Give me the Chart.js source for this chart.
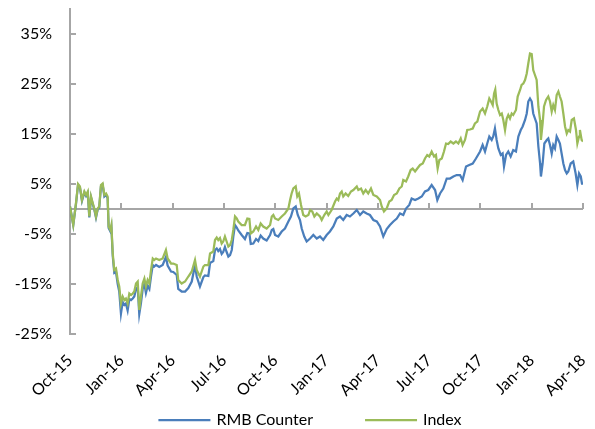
<!DOCTYPE html>
<html><head><meta charset="utf-8">
<script src="https://cdn.jsdelivr.net/npm/chart.js@4.4.1/dist/chart.umd.min.js"></script>
<style>html,body{margin:0;padding:0;background:#fff}#wrap{width:595px;height:429px}</style>
</head><body><div id="wrap"><canvas id="c" width="595" height="429"></canvas></div>
<script>
// Month offsets from Oct-2015 for tick positions
const xTickMonths = [0, 3, 6, 9, 12, 15, 18, 21, 24, 27, 30];
const xTickLabels = ['Oct-15', 'Jan-16', 'Apr-16', 'Jul-16', 'Oct-16', 'Jan-17', 'Apr-17', 'Jul-17', 'Oct-17', 'Jan-18', 'Apr-18'];
const yTickValues = [-25, -15, -5, 5, 15, 25, 35];
const seriesNames = ['RMB Counter', 'Index'];

const indexMonths = [0,0.19,0.35,0.47,0.58,0.70,0.84,0.94,1.04,1.13,1.23,1.33,1.42,1.52,1.62,1.71,1.81,1.91,2.01,2.11,2.20,2.26,2.36,2.42,2.50,2.59,2.69,2.79,2.88,2.98,3.08,3.18,3.27,3.37,3.47,3.57,3.67,3.76,3.86,3.96,4.05,4.15,4.25,4.35,4.44,4.54,4.64,4.74,4.84,4.93,5.03,5.22,5.42,5.61,5.71,5.91,6.04,6.24,6.33,6.53,6.73,6.92,7.12,7.31,7.41,7.60,7.80,7.89,8.09,8.19,8.38,8.48,8.58,8.67,8.77,8.87,8.96,9.06,9.16,9.26,9.36,9.46,9.55,9.65,9.75,9.84,10.04,10.23,10.37,10.49,10.57,10.72,10.88,11.01,11.15,11.30,11.50,11.70,11.80,11.89,
11.99,12.18,12.38,12.57,12.77,12.87,12.96,13.06,13.20,13.29,13.39,13.51,13.64,13.78,13.94,14.04,14.17,14.29,14.43,14.62,14.72,14.87,15.01,15.11,15.30,15.50,15.60,15.69,15.79,15.89,15.98,16.12,16.27,16.43,16.57,16.77,16.86,17.02,17.15,17.29,17.44,17.60,17.74,17.94,18.13,18.23,18.36,18.52,18.67,18.81,18.95,19.11,19.26,19.40,19.49,19.65,19.78,19.92,20.04,20.18,20.31,20.47,20.63,20.76,20.89,21.01,21.15,21.29,21.40,21.50,21.60,21.74,21.87,21.99,22.12,22.26,22.42,22.57,22.71,22.85,22.96,23.10,23.23,23.39,23.55,23.68,23.82,23.98,24.13,24.27,24.40,24.52,24.62,24.72,24.80,24.87,24.95,25.05,25.15,25.25,25.34,25.44,25.54,25.63,25.73,25.83,25.92,26.08,26.18,26.32,26.41,26.51,26.61,26.71,26.80,26.90,27.00,27.09,27.19,27.29,27.39,27.49,27.54,27.64,27.72,27.84,27.97,28.07,28.17,28.26,28.36,28.46,28.56,28.65,28.75,28.85,28.95,29.05,29.14,29.24,29.34,29.47,29.59,29.67,29.77,29.82,29.92,30.00];
const indexValues = [0.5,-3.2,1.2,5.0,4.5,1.8,3.5,2.8,3.5,-1.5,2.5,1.2,0.1,-1.5,0.1,0.5,4.8,5.1,2.8,3.1,2.5,-3.5,-4.2,-3.2,-8.9,-12.2,-11.9,-14.2,-15.5,-18.9,-17.5,-18.2,-17.9,-18.9,-16.9,-17.2,-16.9,-16.5,-14.9,-14.5,-20.2,-17.5,-14.9,-13.9,-15.5,-14.2,-14.9,-12.2,-9.9,-10.2,-9.9,-10.2,-9.9,-8.2,-9.9,-10.9,-10.9,-11.2,-14.2,-14.9,-14.5,-13.5,-12.5,-10.2,-12.2,-13.5,-11.5,-11.2,-11.2,-8.9,-8.5,-6.2,-5.7,-6.2,-5.8,-6.9,-6.5,-5.5,-6.5,-7.5,-7.2,-6.2,-4.2,-1.5,-1.9,-2.5,-3.2,-3.2,-1.9,-2.0,-4.9,-4.5,-3.5,-4.2,-2.9,-3.5,-3.9,-3.2,-1.5,-1.2,
-1.9,-2.2,-1.5,-0.9,0.1,1.8,3.1,4.1,4.5,2.5,3.1,0.8,-1.2,-1.5,-1.2,-0.2,-0.5,-1.5,-0.9,-1.5,-2.2,-1.2,-0.5,-1.2,-0.2,1.5,2.1,1.8,3.1,3.5,2.5,3.1,2.6,3.5,3.8,4.5,3.8,4.1,3.1,3.8,3.1,4.1,2.8,2.5,1.8,0.5,-0.5,0.1,1.5,1.8,2.8,3.1,4.1,4.5,5.8,5.5,6.5,7.8,8.1,7.5,8.1,8.8,9.1,10.1,10.8,10.5,11.5,10.5,10.8,8.1,9.8,10.1,11.5,13.1,13.0,13.5,13.1,13.5,13.1,14.1,12.8,13.8,15.8,15.9,16.1,17.1,17.5,19.5,20.1,19.1,20.5,22.1,21.5,20.8,23.1,23.9,21.1,19.8,18.8,19.1,17.8,15.8,18.1,18.8,18.1,19.1,18.8,19.8,22.5,23.8,24.8,25.1,25.8,27.1,29.1,31.1,31.0,27.8,26.8,25.8,20.5,17.8,13.8,17.1,20.5,21.8,22.5,21.5,19.5,20.8,19.8,22.8,23.5,22.5,21.5,19.1,16.5,15.1,15.8,15.5,17.8,18.1,15.8,13.1,14.5,15.8,13.8,13.5];

const rmbMonths = [0,0.19,0.35,0.47,0.58,0.70,0.84,0.94,1.04,1.13,1.23,1.33,1.42,1.52,1.62,1.71,1.81,1.91,2.01,2.11,2.20,2.26,2.36,2.42,2.50,2.59,2.69,2.79,2.88,2.98,3.08,3.18,3.27,3.37,3.47,3.57,3.67,3.76,3.86,3.96,4.05,4.15,4.25,4.35,4.44,4.54,4.64,4.74,4.84,4.93,5.03,5.22,5.42,5.61,5.71,5.91,6.04,6.24,6.33,6.53,6.73,6.92,7.12,7.31,7.41,7.60,7.80,7.89,8.09,8.19,8.38,8.48,8.58,8.67,8.77,8.87,8.96,9.06,9.16,9.26,9.36,9.46,9.55,9.65,9.75,9.84,10.04,10.23,10.37,10.49,10.57,10.72,10.88,11.01,11.15,11.30,11.50,11.70,11.80,11.89,
11.99,12.18,12.38,12.57,12.77,12.92,13.06,13.20,13.32,13.45,13.55,13.70,13.84,14.04,14.23,14.43,14.62,14.81,15.01,15.20,15.40,15.60,15.79,15.98,16.18,16.37,16.57,16.77,16.96,17.15,17.35,17.54,17.74,17.94,18.13,18.32,18.52,18.71,18.91,19.11,19.30,19.49,19.65,19.84,19.98,20.18,20.37,20.57,20.76,20.95,21.15,21.35,21.48,21.64,21.83,22.03,22.22,22.42,22.61,22.81,22.96,23.16,23.35,23.55,23.74,23.98,24.13,24.27,24.40,24.52,24.66,24.75,24.85,24.95,25.05,25.19,25.30,25.38,25.50,25.63,25.77,25.92,26.08,26.22,26.36,26.47,26.61,26.71,26.80,26.90,27.00,27.09,27.19,27.29,27.39,27.49,27.54,27.64,27.74,27.88,27.97,28.07,28.17,28.26,28.36,28.46,28.56,28.65,28.75,28.85,28.95,29.05,29.14,29.28,29.43,29.57,29.67,29.77,29.87,29.94,30.00];
const rmbValues = [0.5,-3.2,1.0,4.8,4.3,1.6,3.3,2.6,3.2,-1.7,2.3,1.0,-0.1,-1.7,-0.1,0.3,4.5,4.8,2.5,2.8,2.2,-3.8,-4.5,-3.6,-9.4,-12.8,-12.6,-15.0,-16.5,-20.9,-18.6,-19.2,-18.9,-20.3,-18.0,-18.2,-17.9,-17.5,-16.0,-15.6,-21.0,-18.8,-16.0,-15.0,-16.8,-15.4,-16.0,-13.4,-11.2,-11.5,-11.2,-11.6,-11.2,-9.6,-11.3,-12.5,-12.6,-13.2,-16.0,-16.5,-16.5,-15.8,-14.5,-11.2,-13.5,-15.5,-13.6,-13.3,-13.4,-10.8,-10.4,-8.2,-7.9,-8.4,-8.0,-9.0,-8.6,-7.6,-8.6,-9.5,-9.2,-8.2,-5.5,-3.2,-3.7,-4.3,-5.2,-6.0,-4.8,-4.9,-7.0,-6.9,-6.0,-6.4,-5.3,-5.9,-6.3,-5.2,-4.2,-4.0,
-5.2,-5.5,-4.5,-3.9,-2.5,-1.5,0.1,0.5,-1.2,-2.2,-3.9,-5.5,-6.5,-5.9,-5.2,-5.9,-5.5,-6.2,-5.2,-4.5,-3.5,-1.9,-1.5,-2.2,-1.2,-1.5,-0.9,-0.2,-1.2,-0.5,-0.9,-1.2,-2.2,-2.5,-3.5,-5.5,-4.0,-3.2,-2.5,-1.9,-0.9,-1.2,0.1,0.8,2.1,1.8,2.1,2.5,3.5,3.8,4.8,3.8,1.8,3.1,4.1,6.1,6.1,6.5,6.8,6.8,5.8,8.5,8.8,9.1,10.1,11.5,12.8,11.5,13.1,14.5,13.8,14.5,16.1,13.8,12.1,10.8,11.1,8.5,10.8,11.5,10.5,11.8,11.5,14.5,15.8,16.5,17.8,19.1,21.5,22.1,21.5,19.1,18.1,17.1,12.5,9.1,6.5,9.1,13.1,13.8,14.1,12.8,11.1,12.8,12.1,14.5,13.8,13.1,11.1,9.1,7.8,7.1,7.5,9.1,9.5,7.1,4.8,7.1,6.5,5.1,5.1];

const FONT = "Lato, 'Open Sans', sans-serif";
const AXIS_GRAY = '#A6A6A6';
const BLUE = '#4A7EBB';
const GREEN = '#9BBB59';

const toPoints = (xs, ys) => xs.map((m, i) => ({x: m, y: ys[i]}));

const axisPlugin = {
  id: 'excelAxes',
  beforeDatasetsDraw(chart) {
    const {ctx, chartArea, scales: {x, y}} = chart;
    const y0 = Math.round(y.getPixelForValue(0));
    ctx.save();
    ctx.strokeStyle = AXIS_GRAY;
    ctx.lineWidth = 2;
    ctx.beginPath();
    ctx.moveTo(chartArea.left, y0);
    ctx.lineTo(chartArea.right, y0);
    xTickMonths.forEach(m => {
      const px = Math.round(x.getPixelForValue(m));
      ctx.moveTo(px, y0);
      ctx.lineTo(px, y0 - 6);
    });
    yTickValues.forEach(v => {
      const py = Math.round(y.getPixelForValue(v));
      ctx.moveTo(chartArea.left, py);
      ctx.lineTo(chartArea.left + 6, py);
    });
    ctx.stroke();
    ctx.restore();
  }
};

// Bottom legend in the spreadsheet style: long line sample, wide gap between entries
const legendPlugin = {
  id: 'bottomLegend',
  afterDraw(chart) {
    const ctx = chart.ctx;
    const lineLen = 52, textGap = 6, itemGap = 52, centerX = 310, cy = 420;
    ctx.save();
    ctx.font = '16px ' + FONT;
    ctx.textBaseline = 'middle';
    ctx.textAlign = 'left';
    const items = chart.data.datasets.map(ds => ({label: ds.label, color: ds.borderColor, lw: ds.borderWidth, w: ctx.measureText(ds.label).width}));
    const total = items.reduce((s, it) => s + lineLen + textGap + it.w, 0) + itemGap * (items.length - 1);
    let x = centerX - total / 2;
    items.forEach(it => {
      ctx.strokeStyle = it.color;
      ctx.lineWidth = it.lw;
      ctx.beginPath();
      ctx.moveTo(x, cy);
      ctx.lineTo(x + lineLen, cy);
      ctx.stroke();
      ctx.fillStyle = '#000';
      ctx.fillText(it.label, x + lineLen + textGap, cy);
      x += lineLen + textGap + it.w + itemGap;
    });
    ctx.restore();
  }
};

new Chart(document.getElementById('c'), {
  type: 'line',
  data: {
    datasets: [
      {label: seriesNames[0], data: toPoints(rmbMonths, rmbValues), borderColor: BLUE, backgroundColor: BLUE, borderWidth: 2.25, pointRadius: 0, tension: 0, fill: false, order: 1},
      {label: seriesNames[1], data: toPoints(indexMonths, indexValues), borderColor: GREEN, backgroundColor: GREEN, borderWidth: 2.25, pointRadius: 0, tension: 0, fill: false, order: 0}
    ]
  },
  options: {
    responsive: false,
    animation: false,
    devicePixelRatio: 1,
    layout: {padding: {left: 0, right: 12, top: 9, bottom: 29}},
    plugins: {
      legend: {display: false},
      tooltip: {enabled: false}
    },
    scales: {
      x: {
        type: 'linear',
        min: 0,
        max: 30,
        afterBuildTicks: s => { s.ticks = xTickMonths.map(v => ({value: v})); },
        afterFit: s => { s.height = 66; s.paddingLeft = 0; s.paddingRight = 0; },
        grid: {display: false, drawTicks: false},
        border: {display: false},
        ticks: {
          autoSkip: false, maxRotation: 45, minRotation: 45, padding: 17,
          color: '#000', font: {family: FONT, size: 16},
          callback: (v, i) => xTickLabels[i]
        }
      },
      y: {
        min: -25,
        max: 40,
        afterBuildTicks: s => { s.ticks = yTickValues.map(v => ({value: v})); },
        afterFit: s => { s.width = 70; s.paddingTop = 0; s.paddingBottom = 0; },
        grid: {display: false, drawTicks: false},
        border: {display: true, color: AXIS_GRAY, width: 2},
        ticks: {padding: 18, color: '#000', font: {family: FONT, size: 16}, callback: v => v + '%'}
      }
    }
  },
  plugins: [axisPlugin, legendPlugin]
});
</script>
</body></html>
